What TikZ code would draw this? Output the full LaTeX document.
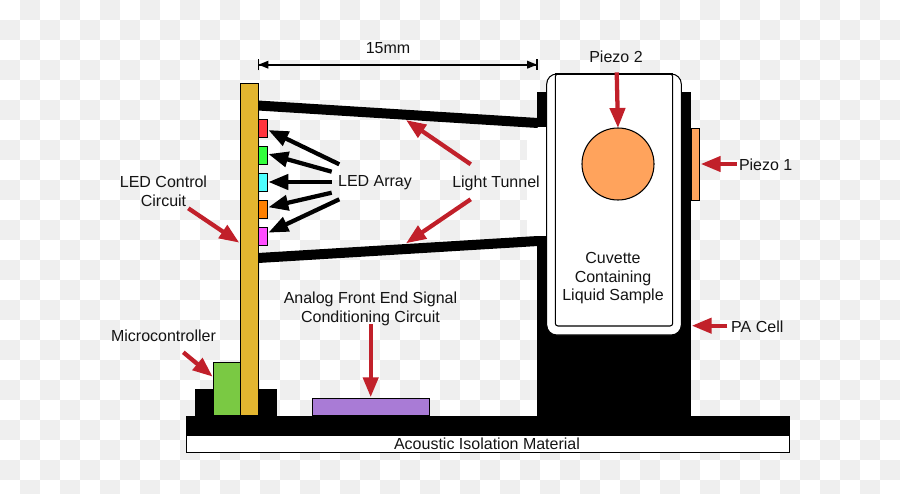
\documentclass[tikz,border=0pt]{standalone}
\usepackage{fontspec}
\setmainfont{Liberation Sans}
\usetikzlibrary{arrows.meta,fit}
\definecolor{redarrow}{HTML}{C1202A}
\definecolor{gold}{HTML}{E3B630}
\definecolor{piezo}{HTML}{FFA35C}
\definecolor{micro}{HTML}{7AC943}
\definecolor{afe}{HTML}{A97BD6}
\definecolor{chk}{HTML}{EFEFEF}
\definecolor{ledr}{HTML}{FF333D}
\definecolor{ledg}{HTML}{33FF3D}
\definecolor{ledc}{HTML}{4DFFFF}
\definecolor{ledo}{HTML}{FF8000}
\definecolor{ledm}{HTML}{FF4DFF}
\tikzset{
 x=0.75pt,y=-0.75pt,
 part/.style={draw=black,line width=0.8pt,inner sep=0pt,outer sep=0pt,rectangle},
 solid block/.style={fill=black,draw=none,inner sep=0pt,outer sep=0pt,rectangle},
 lbl/.style={font=\fontsize{12pt}{13.9pt}\selectfont,align=center,inner sep=0pt,text=black!92},
 red arrow/.style={draw=redarrow,line width=3.2pt,-{Triangle[length=15pt,width=11.25pt]}},
 black arrow/.style={draw=black,line width=3.2pt,-{Triangle[length=15pt,width=11.25pt]}},
 tunnel/.style={draw=black,line width=7.5pt},
 dim/.style={draw=black,line width=1.5pt,{Bar[width=8.5pt,line width=1pt]Triangle[length=7.5pt,width=5.5pt,sep=-0.8pt]}-{Triangle[length=7.5pt,width=5.5pt,sep=-0.8pt]Bar[width=8.5pt,line width=1pt]}},
}
\newcommand{\bx}[6]{\node[#2,fit={(#3,#4)(#5,#6)}] (#1) {};}
\begin{document}
\begin{tikzpicture}
\useasboundingbox (0,0) rectangle (900,493);
\fill[white] (0,0) rectangle (900,493);
\foreach \i in {0,...,44}{\foreach \j in {0,...,24}{
 \pgfmathtruncatemacro{\odd}{mod(\i+\j,2)}
 \ifnum\odd=1 \fill[chk] (\i*20,\j*20) rectangle ++(20,20);\fi}}
% base
\bx{plate}{solid block}{186}{416}{790}{435}
\bx{iso}{part,fill=white}{186.5}{435}{789.5}{452.5}
\node[lbl] (isolabel) at (487,444) {Acoustic Isolation Material};
% PA cell
\bx{cell}{solid block}{537}{92}{691}{416}
\fill[white] (527,127) rectangle (546,236);
% tunnel
\coordinate (t1a) at (258,105.5); \coordinate (t1b) at (538,123);
\coordinate (t2a) at (258,258); \coordinate (t2b) at (538,241);
\draw[tunnel] (t1a) -- (t1b);
\draw[tunnel] (t2a) -- (t2b);
% cuvette
\node[part,fill=white,rounded corners=7.5pt,fit={(546.7,74)(681.3,335)}] (cuvette) {};
\node[part,fill=white,rounded corners=2pt,fit={(555.3,74)(672.7,326)}] (inner) {};
\draw[black,line width=0.8pt] (555.3,74) -- (672.7,74);
\node[circle,draw=black,line width=0.8pt,fill=piezo,minimum size=54pt,inner sep=0pt,outer sep=0pt] (p2) at (618,164) {};
\bx{p1}{part,fill=piezo}{691}{128.3}{699.7}{200.3}
\node[lbl] (cuvlabel) at (613,278.5) {Cuvette\\Containing\\Liquid Sample};
% PCB
\bx{base}{solid block}{195}{389}{277}{416}
\bx{mcu}{part,fill=micro}{213.7}{362.3}{240.5}{416}
\bx{pcb}{part,fill=gold}{240.5}{83.3}{258.5}{416}
\bx{afebox}{part,fill=afe}{312.7}{398.3}{429.7}{416}
\bx{l1}{part,fill=ledr}{258.5}{119.3}{267.5}{137.3}
\bx{l2}{part,fill=ledg}{258.5}{146.3}{267.5}{164.3}
\bx{l3}{part,fill=ledc}{258.5}{173.3}{267.5}{191.3}
\bx{l4}{part,fill=ledo}{258.5}{200.3}{267.5}{218.3}
\bx{l5}{part,fill=ledm}{258.5}{227.3}{267.5}{245.3}
% labels
\node[lbl] (dimlabel) at (388,47.8) {15mm};
\node[lbl] (piezo2label) at (616,57) {Piezo 2};
\node[lbl] (piezo1label) at (765.7,165) {Piezo 1};
\node[lbl] (palabel) at (757.3,326.5) {PA Cell};
\node[lbl] (ledlabel) at (375,183) {LED Array};
\node[lbl] (tunnellabel) at (496,183) {Light Tunnel};
\node[lbl] (ctrllabel) at (163.5,191.5) {LED Control\\Circuit};
\node[lbl] (afelabel) at (370.5,309) {Analog Front End Signal\\Conditioning Circuit};
\node[lbl] (mculabel) at (163.5,336) {Microcontroller};
% dimension
\coordinate (da) at (258,64.7); \coordinate (db) at (537.5,64.7);
\draw[dim] (da) -- (db);
% black arrows
\coordinate (b1s) at (339.3,164.3); \coordinate (b1e) at (268.3,130);
\coordinate (b2s) at (331.7,171.7); \coordinate (b2e) at (268.3,154);
\coordinate (b3s) at (331.7,182);   \coordinate (b3e) at (268.3,182);
\coordinate (b4s) at (331.7,192.7); \coordinate (b4e) at (268.3,207.3);
\coordinate (b5s) at (339.3,199.3); \coordinate (b5e) at (268.3,232.7);
\foreach \k in {1,...,5}{\draw[black arrow] (b\k s) -- (b\k e);}
% red arrows
\coordinate (r1s) at (616.7,72.3);  \coordinate (r1e) at (618,128);
\coordinate (r2s) at (736.7,164);   \coordinate (r2e) at (700.7,164);
\coordinate (r3s) at (727.3,325.7); \coordinate (r3e) at (691.7,325.7);
\coordinate (r4s) at (188.3,208.3); \coordinate (r4e) at (239.3,242.7);
\coordinate (r5s) at (470.7,164.3); \coordinate (r5e) at (406,120);
\coordinate (r6s) at (470.7,199.3); \coordinate (r6e) at (406,243.3);
\coordinate (r7s) at (183.3,352.3); \coordinate (r7e) at (212.7,376.7);
\coordinate (r8s) at (370.7,324.3); \coordinate (r8e) at (370.7,397.3);
\foreach \k in {1,...,8}{\draw[red arrow] (r\k s) -- (r\k e);}
\end{tikzpicture}
\end{document}
